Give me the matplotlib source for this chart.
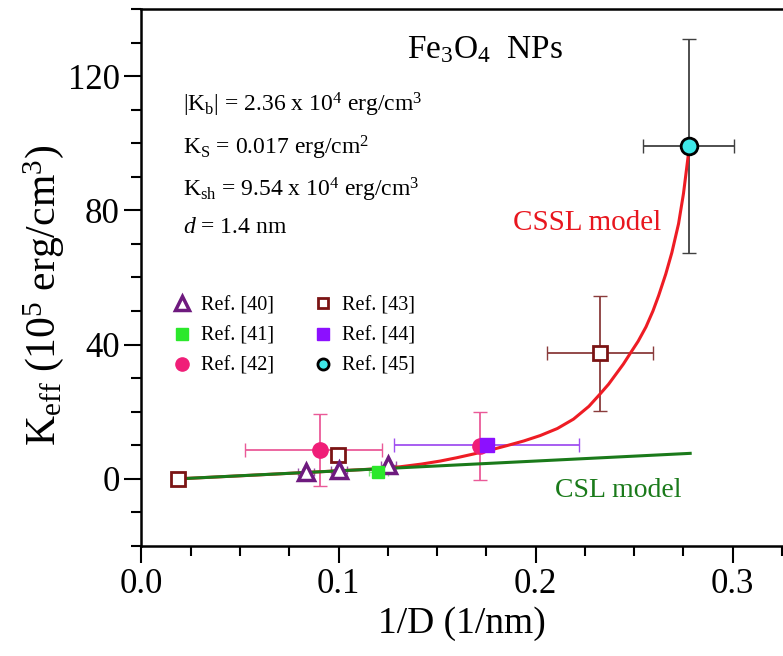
import numpy as np
import matplotlib
matplotlib.use("Agg")
import matplotlib.pyplot as plt
from matplotlib.ticker import MultipleLocator
from matplotlib.lines import Line2D

plt.rcParams['font.family'] = ['Liberation Serif', 'DejaVu Serif']
plt.rcParams['mathtext.fontset'] = 'custom'
plt.rcParams['mathtext.rm'] = 'Liberation Serif'
plt.rcParams['mathtext.it'] = 'Liberation Serif:italic'
plt.rcParams['mathtext.bf'] = 'Liberation Serif:bold'

# data
ref40_x = [0.0833, 0.1003, 0.1253]
ref40_y = [2.0, 2.5, 4.2]
ref41_x = [0.1202]
ref41_y = [2.0]
ref42_x = [0.0906, 0.1718]
ref42_y = [8.6, 9.9]
ref42_yerr_lo = [10.6, 10.2]
ref42_yerr_hi = [10.7, 9.9]
ref42_xerr_lo = [0.0379, 0.0]
ref42_xerr_hi = [0.0313, 0.0]
ref43_x = [0.0184, 0.0999, 0.2327]
ref43_y = [0.0, 7.1, 37.4]
ref43_xerr = [0.0, 0.0, 0.027]
ref43_yerr = [0.0, 0.0, 17.1]
ref44_x = [0.1752]
ref44_y = [10.2]
ref44_xerr = [0.047]
ref45_x = [0.2776]
ref45_y = [99.1]
ref45_xerr = [0.023]
ref45_yerr = [31.9]

cssl_x = [0.0184, 0.06, 0.10, 0.12, 0.1312, 0.1420, 0.1515, 0.1600, 0.1684,
          0.1770, 0.1854, 0.1940, 0.2023, 0.2110, 0.2192, 0.2270, 0.2327,
          0.2370, 0.2405, 0.2445, 0.2480, 0.2520, 0.2560, 0.2595, 0.2624,
          0.2660, 0.2691, 0.2725, 0.2750, 0.2776]
cssl_y = [0.0, 1.2, 2.4, 3.0, 3.6, 4.4, 5.3, 6.3, 7.4,
          8.6, 9.9, 11.3, 12.9, 15.0, 17.8, 21.6, 25.3,
          28.2, 31.0, 34.2, 37.4, 41.0, 45.3, 50.0, 54.6,
          61.0, 67.4, 76.0, 85.0, 97.2]
csl_x = [0.0184, 0.2784]
csl_y = [0.0, 7.6]

fig = plt.figure(figsize=(7.83, 6.56), dpi=100)
ax = fig.add_axes([0.1807, 0.1677, 0.8193, 0.8186])

c40 = '#6e1a7e'
c41 = '#2be82b'
c42 = '#f01e78'
c43 = '#7b1414'
c44 = '#8c10ff'
c45 = '#3ee8e8'

# error bars
ax.errorbar(ref40_x, ref40_y, xerr=0.004, yerr=0.8, fmt='none', ecolor='#9a50a8',
            elinewidth=1.0, capsize=3, zorder=1)
ax.errorbar(ref41_x, ref41_y, xerr=0.005, yerr=0.8, fmt='none', ecolor='#7ef07e',
            elinewidth=1.0, capsize=3, zorder=1)
ax.errorbar(ref42_x, ref42_y, xerr=[ref42_xerr_lo, ref42_xerr_hi],
            yerr=[ref42_yerr_lo, ref42_yerr_hi], fmt='none', ecolor='#ea5a98',
            elinewidth=1.3, capsize=5, zorder=1)
ax.errorbar(ref43_x[2:], ref43_y[2:], xerr=ref43_xerr[2:], yerr=ref43_yerr[2:],
            fmt='none', ecolor='#8a3c3c', elinewidth=1.3, capsize=5, zorder=1)
ax.errorbar(ref44_x, ref44_y, xerr=ref44_xerr, fmt='none', ecolor='#a050f0',
            elinewidth=1.3, capsize=5, zorder=1)
ax.errorbar(ref45_x, ref45_y, xerr=ref45_xerr, yerr=ref45_yerr, fmt='none',
            ecolor='#404040', elinewidth=1.3, capsize=5, zorder=1)

# model curves
ax.plot(cssl_x, cssl_y, color='#ee1c24', lw=2.2, zorder=2, solid_joinstyle='round')
ax.plot(csl_x, csl_y, color='#1a7a1a', lw=2.2, zorder=2.5)

# markers
ax.plot(ref42_x, ref42_y, 'o', color=c42, ms=11, zorder=3)
ax.plot(ref43_x, ref43_y, 's', mfc='white', mec=c43, mew=2, ms=9.5, zorder=3)
ax.plot(ref40_x, ref40_y, '^', mfc='white', mec=c40, mew=2.5, ms=12, zorder=3)
ax.plot(ref41_x, ref41_y, 's', color=c41, ms=8, zorder=3)
ax.plot(ref44_x, ref44_y, 's', color=c44, ms=10.5, zorder=3)
ax.plot(ref45_x, ref45_y, 'o', mfc=c45, mec='black', mew=2, ms=12, zorder=4)

handles = [
    Line2D([], [], ls='none', marker='^', mfc='white', mec=c40, mew=2.5, ms=10),
    Line2D([], [], ls='none', marker='s', color=c41, ms=8),
    Line2D([], [], ls='none', marker='o', color=c42, ms=9.5),
    Line2D([], [], ls='none', marker='s', mfc='white', mec=c43, mew=2, ms=7.5),
    Line2D([], [], ls='none', marker='s', color=c44, ms=8.5),
    Line2D([], [], ls='none', marker='o', mfc=c45, mec='black', mew=2, ms=8),
]
labels = ['Ref. [40]', 'Ref. [41]', 'Ref. [42]', 'Ref. [43]', 'Ref. [44]', 'Ref. [45]']
ax.legend(handles, labels, ncol=2, loc='upper left', bbox_to_anchor=(0.037, 0.48),
          frameon=False, fontsize=14.5, handlelength=0.9, handletextpad=0.5,
          columnspacing=1.95, labelspacing=0.55, borderaxespad=0)

# annotations
ax.text(0.4134, 0.9082, r'Fe$_{\rm 3}$O$_{\rm 4}$  NPs', transform=ax.transAxes,
        fontsize=24, va='baseline', ha='left')
ax.text(0.0647, 0.8088, r'|K$_{\rm b}$| = 2.36 x 10$^{\rm 4}$ erg/cm$^{\rm 3}$',
        transform=ax.transAxes, fontsize=17, va='baseline')
ax.text(0.0647, 0.7281, r'K$_{\rm S}$ = 0.017 erg/cm$^{\rm 2}$',
        transform=ax.transAxes, fontsize=17, va='baseline')
ax.text(0.0647, 0.6505, r'K$_{\rm sh}$ = 9.54 x 10$^{\rm 4}$ erg/cm$^{\rm 3}$',
        transform=ax.transAxes, fontsize=17, va='baseline')
ax.text(0.0647, 0.5829, r'$d$ = 1.4 nm', transform=ax.transAxes, fontsize=17,
        va='baseline')
ax.text(0.579, 0.5885, 'CSSL model', color='#e8161e', transform=ax.transAxes,
        fontsize=21, va='baseline')
ax.text(0.6445, 0.0918, 'CSL model', color='#1a7a1a', transform=ax.transAxes,
        fontsize=20, va='baseline')

ax.set_xlim(0, 0.3255)
ax.set_ylim(-20, 140)
ax.xaxis.set_major_locator(MultipleLocator(0.1))
ax.xaxis.set_minor_locator(MultipleLocator(0.025))
ax.yaxis.set_major_locator(MultipleLocator(40))
ax.yaxis.set_minor_locator(MultipleLocator(10))
ax.xaxis.set_major_formatter(plt.FuncFormatter(lambda v, p: '%.1f' % v))
ax.tick_params(which='both', direction='out', width=1.5, labelsize=25,
               top=False, right=False)
ax.tick_params(which='major', length=12)
ax.tick_params(which='minor', length=7)
ax.spines['right'].set_visible(False)
for s in ['left', 'bottom', 'top']:
    ax.spines[s].set_linewidth(1.8)

ax.set_xlabel('1/D (1/nm)', fontsize=27)
ax.set_ylabel(r'K$_{\rm eff}$ (10$^{\rm 5}$ erg/cm$^{\rm 3}$)', fontsize=30)
ax.yaxis.set_label_coords(-0.118, 0.467)

fig.savefig('out.png', dpi=100)
